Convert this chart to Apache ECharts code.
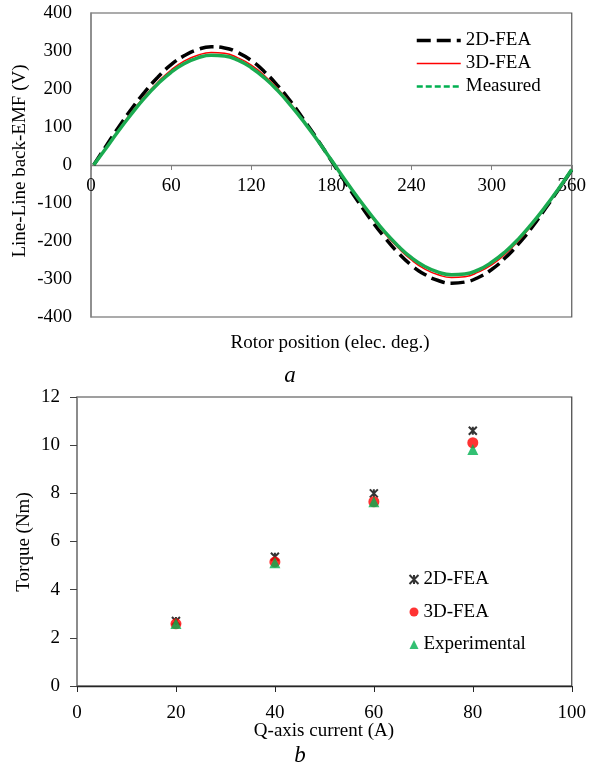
<!DOCTYPE html>
<html>
<head>
<meta charset="utf-8">
<script src="https://cdn.jsdelivr.net/npm/echarts@6/dist/echarts.min.js"></script>
<style>html,body{margin:0;padding:0;background:#fff;}#c{width:589px;height:771px;}</style>
</head>
<body>
<div id="c"></div>
<script>
// ---- Top chart (a): line-line back-EMF ----
var angles = [2,10,20,30,40,50,60,70,80,90,100,110,120,130,140,150,160,170,180,190,200,210,220,230,240,250,260,270,280,290,300,310,320,330,340,350,360];
var emf2D = [0,43,96,146,191,231,264,288,304,311,308,296,275,245,208,165,116,65,11,-43,-96,-146,-191,-231,-264,-288,-304,-311,-308,-296,-275,-245,-208,-165,-116,-65,-13];
var emf3D = [0,39,89,137,180,218,250,274,289,296,294,282,263,235,200,159,113,64,13,-39,-89,-137,-180,-218,-250,-274,-289,-296,-294,-282,-263,-235,-200,-159,-113,-64,-13];
var emfMeas = [0,38,87,133,176,213,244,267,282,289,287,276,256,229,195,155,111,63,13,-38,-87,-133,-176,-213,-244,-267,-282,-289,-287,-276,-256,-229,-195,-155,-111,-63,-12];
var emfTicks = ['-400','-300','-200','-100','0','100','200','300','400'];

// ---- Bottom chart (b): torque vs Q-axis current ----
var current = [20,40,60,80];
var torque2D = [2.70,5.37,8.00,10.60];
var torque3D = [2.58,5.15,7.65,10.10];
var torqueExp = [2.60,5.12,7.65,9.82];

function pairs(xs, ys){ return xs.map(function(x,i){ return [x, ys[i]]; }); }

var FONT = 'Liberation Serif';
var chart = echarts.init(document.getElementById('c'), null, {renderer:'canvas'});
var labelStyle = {color:'#000', fontFamily:FONT, fontSize:19};

chart.setOption({
  backgroundColor:'#fff',
  animation:false,
  grid:[
    {left:91, top:13, width:482, height:304, show:true, borderColor:'#595959', borderWidth:1.2, containLabel:false},
    {left:77, top:397, width:495, height:289, show:true, borderColor:'#404040', borderWidth:1.2, containLabel:false}
  ],
  xAxis:[
    {gridIndex:0, type:'value', min:0, max:360, interval:60, position:'bottom', offset:-152,
     axisLine:{onZero:false, lineStyle:{color:'#7f7f7f', width:1.3}},
     axisTick:{show:true, length:5, lineStyle:{color:'#7f7f7f'}},
     axisLabel:Object.assign({margin:12, showMinLabel:true, showMaxLabel:true}, labelStyle),
     splitLine:{show:false}},
    {gridIndex:1, type:'value', min:0, max:100, interval:20,
     axisLine:{onZero:false, lineStyle:{color:'#262626', width:1.3}},
     axisTick:{show:true, length:6, lineStyle:{color:'#262626'}},
     axisLabel:Object.assign({margin:18}, labelStyle),
     splitLine:{show:false}}
  ],
  yAxis:[
    {gridIndex:0, type:'value', min:-400, max:400, interval:100,
     axisLine:{show:true, onZero:false, lineStyle:{color:'#8c8c8c', width:1.5}},
     axisTick:{show:false},
     axisLabel:Object.assign({margin:19, formatter:function(v){ var i = Math.round((v+400)/100); return emfTicks[i]; }}, labelStyle),
     splitLine:{show:false}},
    {gridIndex:1, type:'value', min:0, max:12, interval:2,
     axisLine:{show:true, onZero:false, lineStyle:{color:'#8c8c8c', width:1.5}},
     axisTick:{show:true, length:7, lineStyle:{color:'#404040'}},
     axisLabel:Object.assign({margin:17}, labelStyle),
     splitLine:{show:false}}
  ],
  legend:[
    {orient:'vertical', left:415, top:31, padding:0, itemWidth:44, itemHeight:14, itemGap:4,
     textStyle:{color:'#000', fontFamily:FONT, fontSize:19},
     itemStyle:{opacity:0},
     data:[
       {name:'2D-FEA', itemStyle:{opacity:0}, lineStyle:{color:'#000', width:3.5, type:[14,6]}},
       {name:'3D-FEA', itemStyle:{opacity:0}, lineStyle:{color:'#ff0000', width:1.5}},
       {name:'Measured', itemStyle:{opacity:0}, lineStyle:{color:'#00b050', width:2.5, type:[6,3]}}
     ]},
    {orient:'vertical', left:407, top:570, padding:0, itemWidth:9, itemHeight:9, itemGap:13.5,
     textStyle:{color:'#000', fontFamily:FONT, fontSize:19},
     data:['2D-FEA ','3D-FEA ','Experimental']}
  ],
  series:[
    {name:'2D-FEA', type:'line', xAxisIndex:0, yAxisIndex:0, data:pairs(angles, emf2D), smooth:true, symbol:'none',
     lineStyle:{color:'#000', width:3.5, type:[14,6]}, itemStyle:{color:'#000'}, z:2},
    {name:'3D-FEA', type:'line', xAxisIndex:0, yAxisIndex:0, data:pairs(angles, emf3D), smooth:true, symbol:'none',
     lineStyle:{color:'#ff0000', width:1.5}, itemStyle:{color:'#ff0000'}, z:3},
    {name:'Measured', type:'line', xAxisIndex:0, yAxisIndex:0, data:pairs(angles, emfMeas), smooth:true, symbol:'none',
     lineStyle:{color:'#1aab50', width:3.5}, itemStyle:{color:'#00b050'}, z:4},
    {name:'2D-FEA ', type:'scatter', xAxisIndex:1, yAxisIndex:1, data:pairs(current, torque2D),
     symbol:'path://M0,0L10,10M10,0L0,10M5,0L5,10', symbolSize:8,
     itemStyle:{color:'none', borderColor:'#000', borderWidth:2}, z:2},
    {name:'3D-FEA ', type:'scatter', xAxisIndex:1, yAxisIndex:1, data:pairs(current, torque3D),
     symbol:'circle', symbolSize:11, itemStyle:{color:'#ff0000'}, z:3},
    {name:'Experimental', type:'scatter', xAxisIndex:1, yAxisIndex:1, data:pairs(current, torqueExp),
     symbol:'triangle', symbolSize:11, itemStyle:{color:'#00b050'}, z:4}
  ],
  graphic:[
    {type:'text', x:20, y:161, rotation:Math.PI/2, style:{text:'Line-Line back-EMF (V)', fill:'#000', font:'19px "Liberation Serif"', align:'center', verticalAlign:'middle'}},
    {type:'text', x:330, y:343, style:{text:'Rotor position (elec. deg.)', fill:'#000', font:'19px "Liberation Serif"', align:'center', verticalAlign:'middle'}},
    {type:'text', x:290, y:376, style:{text:'a', fill:'#000', font:'italic 23px "Liberation Serif"', align:'center', verticalAlign:'middle'}},
    {type:'text', x:24, y:542, rotation:Math.PI/2, style:{text:'Torque (Nm)', fill:'#000', font:'19px "Liberation Serif"', align:'center', verticalAlign:'middle'}},
    {type:'text', x:324, y:731, style:{text:'Q-axis current (A)', fill:'#000', font:'19px "Liberation Serif"', align:'center', verticalAlign:'middle'}},
    {type:'text', x:300, y:756, style:{text:'b', fill:'#000', font:'italic 23px "Liberation Serif"', align:'center', verticalAlign:'middle'}}
  ]
});
</script>
</body>
</html>
